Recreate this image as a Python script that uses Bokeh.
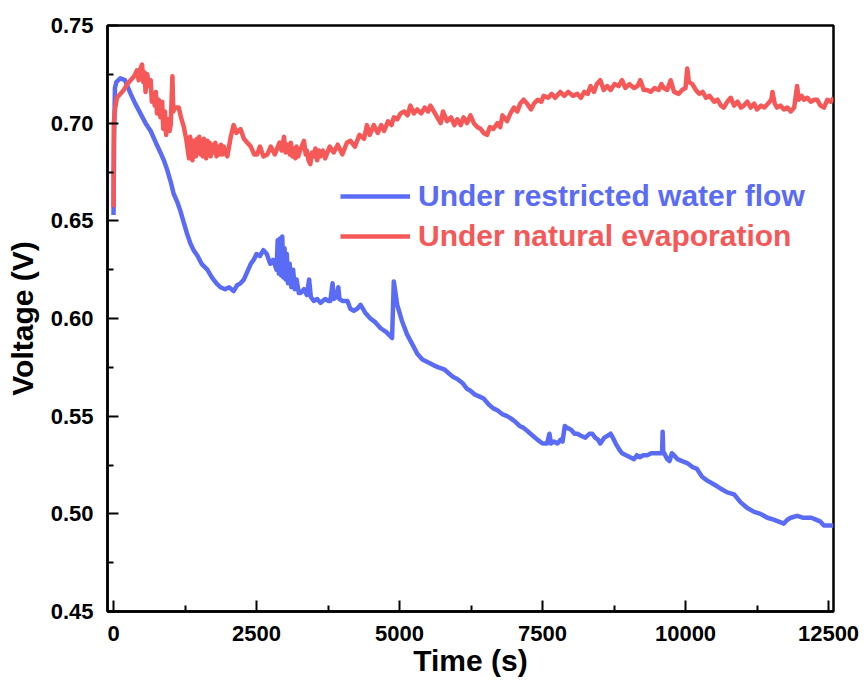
from bokeh.plotting import figure
from bokeh.models import (Range1d, FixedTicker, PrintfTickFormatter, Legend, LegendItem)
from bokeh.embed import file_html
from bokeh.resources import INLINE

# Time (s) and voltage (V) for the cell under restricted water flow
restricted_t = [0, 10, 25, 50, 120, 200, 300, 380, 470, 560, 650, 740, 820, 880, 940, 1000, 1050,
                1110, 1170, 1230, 1290, 1350, 1400, 1470, 1540, 1640, 1720, 1800, 1870, 1950, 2020,
                2100, 2160, 2220, 2280, 2340, 2400, 2450, 2500, 2560, 2620, 2680, 2740, 2790, 2850,
                2870, 2890, 2910, 2930, 2950, 2970, 2990, 3010, 3030, 3050, 3080, 3110, 3140, 3170,
                3200, 3240, 3270, 3330, 3380, 3420, 3450, 3500, 3560, 3620, 3700, 3760, 3790, 3830,
                3850, 3900, 3930, 3950, 4000, 4090, 4140, 4200, 4260, 4320, 4400, 4490, 4580, 4670,
                4770, 4870, 4900, 4930, 4960, 5040, 5130, 5220, 5310, 5400, 5470, 5540, 5600, 5680,
                5780, 5860, 5940, 6010, 6100, 6180, 6240, 6320, 6400, 6470, 6560, 6640, 6710, 6800,
                6880, 6940, 7030, 7100, 7170, 7250, 7330, 7410, 7500, 7580, 7620, 7650, 7700, 7760,
                7820, 7850, 7890, 7930, 8000, 8060, 8110, 8170, 8250, 8320, 8370, 8420, 8470, 8510,
                8580, 8640, 8690, 8730, 8780, 8840, 8890, 8960, 9030, 9100, 9150, 9200, 9260, 9330,
                9400, 9480, 9560, 9590, 9600, 9610, 9680, 9720, 9760, 9800, 9860, 9940, 10030, 10120,
                10200, 10290, 10380, 10500, 10610, 10730, 10850, 10960, 11080, 11200, 11310, 11430,
                11540, 11630, 11720, 11780, 11840, 11950, 12050, 12120, 12200, 12280, 12360, 12420,
                12480, 12590]
restricted_v = [0.653, 0.690, 0.718, 0.721, 0.723, 0.722, 0.715, 0.710, 0.705, 0.700, 0.696, 0.690,
                0.685, 0.681, 0.676, 0.670, 0.664, 0.660, 0.655, 0.649, 0.643, 0.638, 0.635, 0.632,
                0.628, 0.625, 0.621, 0.618, 0.616, 0.615, 0.616, 0.614, 0.617, 0.618, 0.620, 0.624,
                0.628, 0.630, 0.633, 0.632, 0.635, 0.633, 0.628, 0.630, 0.625, 0.640, 0.623, 0.641,
                0.622, 0.642, 0.621, 0.636, 0.620, 0.633, 0.618, 0.628, 0.616, 0.625, 0.615, 0.620,
                0.613, 0.613, 0.615, 0.612, 0.620, 0.611, 0.609, 0.610, 0.608, 0.610, 0.609, 0.609,
                0.618, 0.610, 0.611, 0.616, 0.610, 0.609, 0.609, 0.605, 0.604, 0.605, 0.607, 0.603,
                0.600, 0.598, 0.595, 0.593, 0.590, 0.619, 0.613, 0.607, 0.599, 0.592, 0.587, 0.582,
                0.579, 0.578, 0.577, 0.576, 0.575, 0.574, 0.572, 0.570, 0.569, 0.567, 0.564, 0.563,
                0.561, 0.560, 0.559, 0.556, 0.554, 0.553, 0.551, 0.550, 0.549, 0.547, 0.545, 0.544,
                0.542, 0.540, 0.538, 0.536, 0.536, 0.541, 0.536, 0.537, 0.536, 0.538, 0.537, 0.545,
                0.544, 0.543, 0.541, 0.541, 0.540, 0.539, 0.541, 0.541, 0.539, 0.538, 0.536, 0.539,
                0.540, 0.541, 0.539, 0.536, 0.533, 0.531, 0.530, 0.529, 0.528, 0.530, 0.529, 0.530,
                0.530, 0.531, 0.531, 0.531, 0.531, 0.542, 0.532, 0.528, 0.527, 0.531, 0.530, 0.528,
                0.527, 0.526, 0.524, 0.523, 0.519, 0.517, 0.515, 0.513, 0.511, 0.510, 0.506, 0.503,
                0.501, 0.500, 0.498, 0.497, 0.496, 0.495, 0.497, 0.498, 0.499, 0.498, 0.498, 0.498,
                0.497, 0.496, 0.494, 0.494, 0.494]

# Time (s) and voltage (V) for the cell under natural evaporation
natural_t = [0, 5, 30, 60, 120, 180, 240, 300, 360, 410, 440, 470, 500, 520, 545, 560, 590, 620,
             650, 670, 700, 720, 740, 760, 790, 820, 850, 870, 900, 920, 950, 980, 1000, 1030, 1045,
             1080, 1140, 1180, 1230, 1270, 1300, 1320, 1340, 1360, 1380, 1400, 1420, 1440, 1460,
             1480, 1500, 1520, 1540, 1560, 1580, 1600, 1620, 1640, 1660, 1680, 1700, 1720, 1750,
             1780, 1800, 1830, 1850, 1880, 1900, 1930, 1950, 1990, 2020, 2050, 2100, 2150, 2220,
             2280, 2340, 2400, 2460, 2510, 2560, 2620, 2690, 2750, 2820, 2900, 2940, 2980, 3010,
             3050, 3080, 3100, 3130, 3150, 3180, 3200, 3230, 3250, 3290, 3330, 3360, 3380, 3410,
             3440, 3470, 3500, 3530, 3560, 3590, 3620, 3660, 3700, 3780, 3850, 3920, 4000, 4080,
             4140, 4220, 4300, 4380, 4430, 4480, 4550, 4620, 4680, 4730, 4800, 4860, 4900, 4960,
             5020, 5080, 5140, 5190, 5250, 5310, 5380, 5440, 5500, 5540, 5600, 5660, 5720, 5760,
             5830, 5900, 5960, 6010, 6070, 6120, 6180, 6240, 6300, 6360, 6420, 6470, 6530, 6580,
             6640, 6710, 6760, 6800, 6880, 6940, 7000, 7060, 7110, 7170, 7230, 7300, 7350, 7420,
             7480, 7520, 7600, 7660, 7720, 7810, 7880, 7950, 8030, 8110, 8170, 8230, 8290, 8340,
             8400, 8450, 8510, 8570, 8630, 8690, 8760, 8830, 8890, 8950, 9020, 9100, 9160, 9210,
             9270, 9330, 9390, 9460, 9530, 9580, 9620, 9680, 9740, 9800, 9880, 9940, 10000, 10030,
             10060, 10120, 10180, 10240, 10300, 10360, 10420, 10500, 10560, 10620, 10670, 10730,
             10790, 10850, 10910, 10970, 11020, 11080, 11140, 11200, 11250, 11320, 11380, 11440,
             11500, 11520, 11560, 11600, 11660, 11720, 11780, 11840, 11900, 11950, 11980, 12030,
             12070, 12130, 12190, 12250, 12300, 12360, 12420, 12480, 12540, 12590]
natural_v = [0.657, 0.700, 0.708, 0.713, 0.715, 0.717, 0.720, 0.722, 0.724, 0.727, 0.722, 0.728,
             0.730, 0.721, 0.726, 0.716, 0.725, 0.719, 0.722, 0.711, 0.715, 0.709, 0.716, 0.705,
             0.712, 0.703, 0.711, 0.697, 0.706, 0.694, 0.702, 0.696, 0.699, 0.724, 0.706, 0.708,
             0.708, 0.703, 0.698, 0.692, 0.686, 0.682, 0.693, 0.685, 0.681, 0.691, 0.688, 0.683,
             0.692, 0.685, 0.693, 0.684, 0.690, 0.683, 0.692, 0.686, 0.682, 0.691, 0.684, 0.690,
             0.683, 0.689, 0.685, 0.690, 0.683, 0.688, 0.684, 0.689, 0.684, 0.688, 0.685, 0.683,
             0.688, 0.693, 0.699, 0.695, 0.697, 0.692, 0.690, 0.688, 0.684, 0.684, 0.688, 0.683,
             0.684, 0.688, 0.684, 0.690, 0.686, 0.693, 0.685, 0.689, 0.684, 0.690, 0.683, 0.687,
             0.682, 0.688, 0.683, 0.685, 0.688, 0.691, 0.684, 0.686, 0.681, 0.679, 0.685, 0.683,
             0.687, 0.681, 0.686, 0.683, 0.686, 0.682, 0.688, 0.685, 0.689, 0.684, 0.690, 0.691,
             0.688, 0.694, 0.692, 0.699, 0.694, 0.699, 0.695, 0.699, 0.696, 0.701, 0.699, 0.703,
             0.702, 0.705, 0.706, 0.704, 0.709, 0.705, 0.707, 0.705, 0.708, 0.706, 0.709, 0.706,
             0.703, 0.700, 0.706, 0.701, 0.703, 0.699, 0.702, 0.699, 0.703, 0.700, 0.704, 0.700,
             0.698, 0.697, 0.695, 0.694, 0.698, 0.697, 0.700, 0.698, 0.704, 0.701, 0.705, 0.708,
             0.706, 0.710, 0.712, 0.710, 0.707, 0.710, 0.712, 0.711, 0.714, 0.713, 0.715, 0.713,
             0.716, 0.714, 0.716, 0.714, 0.715, 0.713, 0.716, 0.715, 0.719, 0.716, 0.720, 0.722,
             0.717, 0.719, 0.717, 0.720, 0.719, 0.722, 0.718, 0.720, 0.718, 0.719, 0.722, 0.717,
             0.717, 0.716, 0.718, 0.717, 0.720, 0.718, 0.717, 0.722, 0.716, 0.715, 0.717, 0.718,
             0.728, 0.721, 0.720, 0.717, 0.715, 0.716, 0.713, 0.714, 0.711, 0.712, 0.709, 0.708,
             0.711, 0.713, 0.709, 0.711, 0.708, 0.709, 0.711, 0.708, 0.710, 0.707, 0.709, 0.708,
             0.710, 0.712, 0.716, 0.710, 0.708, 0.709, 0.707, 0.708, 0.706, 0.708, 0.719, 0.712,
             0.714, 0.712, 0.713, 0.711, 0.712, 0.712, 0.709, 0.708, 0.712, 0.711, 0.713]

x_ticks = [0, 2500, 5000, 7500, 10000, 12500]
x_minor = [1250, 3750, 6250, 8750, 11250]
y_ticks = [0.45, 0.50, 0.55, 0.60, 0.65, 0.70, 0.75]
y_minor = [0.475, 0.525, 0.575, 0.625, 0.675, 0.725]

BLUE = "#5A6CF6"
RED = "#F65757"
FONT = "Liberation Sans"

p = figure(width=866, height=685, output_backend="svg", toolbar_location=None,
           x_range=Range1d(-105, 12587), y_range=Range1d(0.45, 0.75),
           min_border_left=107, min_border_right=33, min_border_top=25, min_border_bottom=74)
p.background_fill_color = "white"
p.border_fill_color = "white"
p.grid.visible = False
p.outline_line_color = "black"
p.outline_line_width = 2.5

blue_line = p.line(restricted_t, restricted_v, line_color=BLUE, line_width=4.5, line_join="round")
red_line = p.line(natural_t, natural_v, line_color=RED, line_width=4.5, line_join="round")

for ax in (p.xaxis[0], p.yaxis[0]):
    ax.axis_line_width = 2.5
    ax.axis_line_color = "black"
    ax.major_tick_in = 11
    ax.major_tick_out = 0
    ax.minor_tick_in = 6
    ax.minor_tick_out = 0
    ax.major_tick_line_width = 2
    ax.minor_tick_line_width = 2
    ax.major_label_text_font = FONT
    ax.major_label_text_font_style = "bold"
    ax.major_label_text_font_size = "22px"
    ax.major_label_text_color = "black"
    ax.axis_label_text_font = FONT
    ax.axis_label_text_font_style = "bold"
    ax.axis_label_text_font_size = "30px"
    ax.axis_label_text_color = "black"

p.xaxis.ticker = FixedTicker(ticks=x_ticks, minor_ticks=x_minor)
p.yaxis.ticker = FixedTicker(ticks=y_ticks, minor_ticks=y_minor)
p.yaxis.formatter = PrintfTickFormatter(format="%.2f")
p.xaxis.major_label_standoff = 14
p.yaxis.major_label_standoff = 14
p.xaxis.axis_label = "Time (s)"
p.yaxis.axis_label = "Voltage (V)"
p.xaxis.axis_label_standoff = 0
p.yaxis.axis_label_standoff = 9

# two single-entry legends, each with text in its series colour
for renderer, label, colour, y in ((blue_line, "Under restricted water flow", BLUE, 398),
                                    (red_line, "Under natural evaporation", RED, 358)):
    lg = Legend(items=[LegendItem(label=label, renderers=[renderer])], location=(233, y),
                padding=0, margin=0, border_line_color=None, background_fill_alpha=0,
                glyph_width=70, glyph_height=30, label_height=30, label_standoff=8,
                label_text_font=FONT, label_text_font_style="bold",
                label_text_font_size="30px", label_text_color=colour)
    p.add_layout(lg, "center")

open("out.html", "w").write(file_html(p, INLINE))
